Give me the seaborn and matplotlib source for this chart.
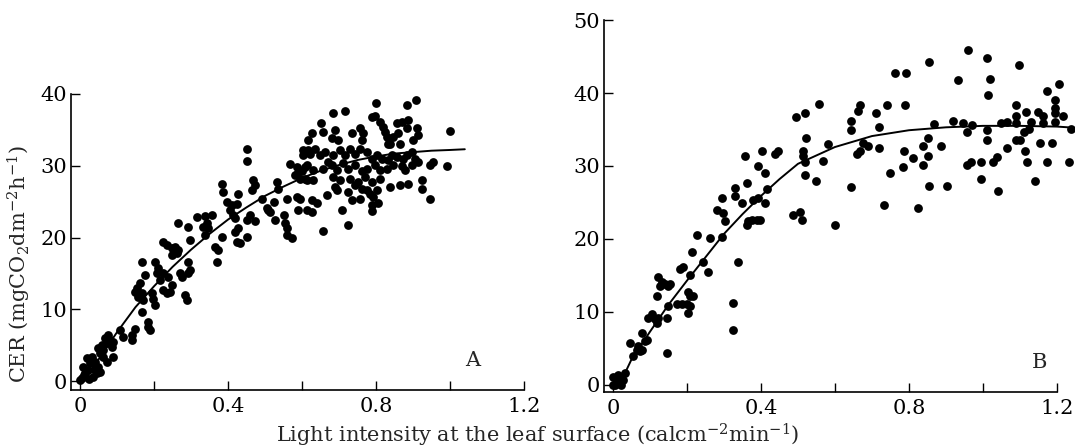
import numpy as np
import pandas as pd
import matplotlib
matplotlib.use("Agg")
import matplotlib.pyplot as plt
import seaborn as sns

# ---- panel A : measured points (light intensity, CER) ----
a_x = [0.005, 0.014, 0.009, 0.022, 0.036, 0.045, 0.027, 0.018, 0.032, 0.041, 0.049, 0.054, 0.063, 0.059, 0.072,
       0.068, 0.077, 0.081, 0.090, 0.086, 0.063, 0.072, 0.090, 0.049, 0.000, 0.010, 0.025, 0.040, 0.055,
       0.108, 0.117, 0.140, 0.149, 0.140, 0.167, 0.185, 0.189, 0.185,
       0.149, 0.153, 0.158, 0.167, 0.171, 0.162, 0.176, 0.167, 0.194, 0.198, 0.203, 0.207, 0.212, 0.203, 0.216,
       0.225, 0.234, 0.243, 0.248, 0.225, 0.239,
       0.270, 0.275, 0.293, 0.293, 0.284, 0.288, 0.297,
       0.225, 0.234, 0.248, 0.257, 0.261, 0.248, 0.266, 0.297, 0.338, 0.365, 0.374, 0.369, 0.383,
       0.450, 0.450, 0.383, 0.386, 0.468, 0.473, 0.464, 0.428, 0.396, 0.410, 0.423, 0.405, 0.414, 0.419, 0.356,
       0.338, 0.315, 0.342, 0.333, 0.347, 0.266, 0.293,
       0.450, 0.459, 0.473, 0.428, 0.419, 0.450, 0.432, 0.423,
       0.491, 0.505, 0.509, 0.523, 0.514, 0.527, 0.550, 0.554, 0.559, 0.559, 0.572, 0.590, 0.595, 0.559, 0.613,
       0.532, 0.536, 0.568, 0.586, 0.599, 0.604, 0.617, 0.613, 0.595, 0.581, 0.608,
       0.800, 0.788, 0.797, 0.811, 0.820, 0.824, 0.829, 0.833, 0.883, 0.908, 0.685, 0.716, 0.650, 0.658, 0.626,
       0.617, 0.689, 0.680, 0.698, 0.734, 0.757, 0.766, 0.761, 0.856, 0.869, 0.887, 0.883, 0.910, 0.914, 0.901,
       0.860, 0.847, 0.838, 0.865, 1.000,
       0.604, 0.622, 0.635, 0.649, 0.662, 0.671, 0.685, 0.703, 0.716, 0.730, 0.743, 0.757, 0.775, 0.788, 0.802,
       0.815, 0.833, 0.842, 0.856, 0.874, 0.883, 0.896, 0.905, 0.914,
       0.613, 0.631, 0.658, 0.680, 0.694, 0.712, 0.725, 0.743, 0.761, 0.775, 0.797, 0.811, 0.829, 0.847, 0.869,
       0.878, 0.896,
       0.586, 0.608, 0.631, 0.685, 0.703, 0.730, 0.752, 0.770, 0.788, 0.811, 0.838, 0.865, 0.887, 0.923, 0.923,
       0.955, 0.946, 0.991, 0.946,
       0.689, 0.694, 0.725, 0.743, 0.761, 0.775, 0.784, 0.802, 0.793,
       0.586, 0.626, 0.640, 0.626, 0.667, 0.707, 0.734, 0.757, 0.788, 0.788, 0.806, 0.658, 0.725]
a_y = [0.37, 1.07, 2.00, 1.53, 0.60, 1.07, 2.46, 3.16, 3.39, 2.69, 2.00, 3.85, 4.32, 5.00, 5.25,
       5.94, 6.40, 5.70, 5.50, 4.78, 3.39, 2.69, 3.39, 4.55, 0.20, 0.80, 0.30, 1.60, 1.30,
       7.10, 6.20, 5.70, 7.30, 6.40, 9.65, 8.26, 7.10, 7.56,
       12.4, 12.9, 11.7, 12.2, 11.3, 13.6, 14.8, 16.6, 12.2, 11.5, 10.6, 15.0, 15.7, 16.6, 14.1,
       12.7, 12.2, 12.4, 13.4, 15.0, 14.5,
       15.0, 14.5, 15.0, 16.6, 12.0, 11.3, 15.5,
       19.4, 18.9, 18.5, 18.7, 17.8, 17.5, 18.2, 19.6, 20.3, 18.7, 18.2, 16.6, 20.1,
       32.4, 30.7, 27.5, 26.4, 28.0, 27.3, 26.6, 26.0, 25.0, 24.5, 24.7, 23.8, 23.1, 22.7, 23.1,
       23.0, 22.9, 22.0, 21.4, 21.3, 22.0, 21.4,
       22.4, 23.1, 22.3, 21.3, 20.8, 20.1, 19.2, 19.4,
       25.3, 24.1, 23.8, 25.0, 23.6, 22.4, 23.1, 22.0, 21.3, 20.3, 19.9, 23.8, 25.4, 25.4, 23.8,
       27.8, 26.8, 30.3, 29.8, 29.2, 31.5, 32.2, 28.0, 28.2, 28.7, 29.8,
       38.8, 36.8, 37.0, 36.1, 35.4, 34.7, 34.0, 33.1, 38.4, 39.1, 37.4, 37.6, 36.0, 34.7, 34.5,
       33.6, 35.0, 33.8, 33.6, 34.5, 35.2, 34.5, 33.6, 35.9, 36.1, 36.4, 35.2, 35.2, 34.3, 33.6,
       34.5, 34.0, 33.1, 33.1, 34.9,
       32.2, 31.7, 32.4, 31.5, 31.9, 30.5, 31.5, 32.2, 31.5, 32.4, 31.7, 32.4, 31.9, 31.0, 31.5,
       31.0, 30.8, 31.5, 31.2, 31.0, 31.5, 31.9, 31.0, 30.5,
       30.1, 29.4, 29.6, 30.1, 29.4, 30.4, 29.6, 30.1, 29.2, 29.6, 30.1, 29.4, 29.6, 30.1, 29.9,
       29.4, 30.1,
       28.9, 28.2, 28.0, 28.5, 28.0, 28.2, 27.8, 28.5, 27.8, 28.2, 27.1, 27.3, 27.5, 28.0, 26.8,
       30.5, 30.1, 29.9, 25.4,
       27.1, 26.6, 26.4, 27.3, 26.8, 26.6, 26.1, 26.6, 25.6,
       25.7, 25.2, 24.8, 23.6, 25.9, 23.9, 25.2, 25.4, 24.5, 23.7, 24.8, 20.9, 21.7]
a_curve_x = [0.02, 0.05, 0.10, 0.15, 0.20, 0.25, 0.30, 0.35, 0.40, 0.45, 0.50, 0.55, 0.60, 0.65, 0.70,
             0.75, 0.80, 0.85, 0.90, 0.95, 1.00, 1.04]
a_curve_y = [0.8, 3.0, 6.8, 10.3, 13.2, 15.9, 18.3, 20.5, 22.5, 24.2, 25.8, 27.1, 28.3, 29.3, 30.1,
             30.8, 31.3, 31.7, 31.9, 32.1, 32.2, 32.3]

# ---- panel B ----
b_x = [0.001, 0.010, 0.019, 0.005, 0.028, 0.032, 0.014, 0.023, 0.001,
       0.046, 0.055, 0.064, 0.073, 0.078, 0.068, 0.078, 0.091, 0.086,
       0.095, 0.105, 0.114, 0.118, 0.122, 0.145, 0.145, 0.149,
       0.118, 0.127, 0.132, 0.141, 0.149, 0.154, 0.122,
       0.172, 0.186, 0.199, 0.208, 0.204, 0.208, 0.217, 0.204,
       0.181, 0.190, 0.208, 0.213, 0.226, 0.244, 0.258, 0.262,
       0.280, 0.294, 0.298, 0.303, 0.294, 0.325, 0.325, 0.339,
       0.330, 0.330, 0.348, 0.361, 0.357, 0.361, 0.366, 0.375, 0.388, 0.397, 0.402, 0.393, 0.411, 0.379,
       0.393, 0.411, 0.415, 0.438, 0.447,
       0.487, 0.505, 0.510, 0.496, 0.519, 0.558, 0.523, 0.514, 0.514, 0.519, 0.582, 0.568, 0.519, 0.549,
       0.600, 0.642, 0.642, 0.663, 0.668, 0.677, 0.690, 0.659, 0.668, 0.711, 0.720, 0.740, 0.720, 0.642,
       0.732, 0.749, 0.762, 0.792, 0.789, 0.786, 0.783,
       0.825, 0.812, 0.837, 0.839, 0.852, 0.855, 0.852, 0.855, 0.868, 0.886, 0.902, 0.918, 0.933, 0.960,
       0.945, 0.956, 0.969, 0.958, 0.970, 0.996, 0.994, 1.010, 1.020, 1.014, 1.012, 1.012, 1.028, 1.037,
       1.041, 1.050, 1.064, 1.066, 1.098, 1.089, 1.090, 1.090, 1.090, 1.101, 1.116, 1.114, 1.118, 1.110,
       1.125, 1.130, 1.142, 1.149, 1.154, 1.163, 1.163, 1.172, 1.174, 1.186, 1.195, 1.206, 1.195, 1.195,
       1.195, 1.217, 1.233, 1.237]
b_y = [1.15, 0.69, 0.23, 0.00, 0.69, 1.60, 1.38, 0.00, 0.00,
       5.77, 3.92, 4.85, 4.60, 4.85, 5.30, 7.16, 6.23, 6.00,
       9.2, 9.7, 9.0, 8.5, 9.2, 4.4, 9.2, 10.8,
       12.2, 13.6, 14.1, 13.9, 13.6, 13.9, 14.8,
       11.1, 11.1, 11.1, 10.8, 9.9, 12.2, 12.2, 12.7,
       15.9, 16.2, 15.0, 18.2, 20.5, 16.9, 15.5, 20.1,
       24.0, 25.6, 23.5, 22.4, 20.3, 11.3, 7.6, 16.9,
       27.0, 25.9, 24.9, 27.7, 31.4, 21.9, 22.4, 22.6, 22.6, 22.6, 32.1, 30.0, 29.1, 25.4,
       25.6, 24.9, 26.8, 31.6, 32.1,
       23.3, 23.7, 22.6, 36.7, 37.3, 38.5, 33.9, 32.1, 31.4, 30.5, 33.0, 30.7, 28.8, 28.0,
       21.9, 36.2, 34.9, 37.6, 38.3, 33.2, 32.8, 31.7, 32.0, 37.3, 35.4, 38.3, 32.5, 27.1,
       24.7, 29.1, 42.7, 42.8, 38.3, 32.1, 29.8,
       24.3, 31.1, 30.2, 32.8, 33.9, 44.3, 31.4, 27.2, 35.7, 32.8, 27.2, 36.2, 41.8, 45.9,
       35.9, 30.2, 30.6, 34.6, 35.6, 28.2, 30.6, 44.8, 41.9, 39.7, 34.9, 33.6, 30.6, 31.2,
       26.6, 35.9, 36.0, 32.4, 43.9, 38.3, 36.9, 35.9, 33.6, 33.6, 37.4, 32.0, 30.6, 34.6,
       35.1, 36.0, 28.0, 37.4, 33.2, 36.9, 35.9, 30.5, 40.3, 33.2, 39.1, 41.2, 37.9, 37.2,
       36.0, 36.8, 30.5, 35.1]
b_curve_x = [0.02, 0.05, 0.10, 0.15, 0.20, 0.25, 0.30, 0.35, 0.40, 0.45, 0.50, 0.60, 0.70, 0.80, 0.90,
             1.00, 1.10, 1.20, 1.23]
b_curve_y = [0.3, 3.5, 7.3, 11.0, 14.3, 17.5, 20.7, 23.4, 25.9, 28.2, 30.3, 32.6, 34.1, 34.9, 35.3,
             35.5, 35.5, 35.4, 35.3]

x_ticks = [0, 0.2, 0.4, 0.6, 0.8, 1.0, 1.2]
x_ticklabels = ["0", "", "0.4", "", "0.8", "", "1.2"]
a_yticks = [0, 10, 20, 30, 40]
b_yticks = [0, 10, 20, 30, 40, 50]

sns.set_style("ticks")
plt.rcParams['font.family'] = ['DejaVu Serif']
plt.rcParams['mathtext.fontset'] = 'dejavuserif'

fig = plt.figure(figsize=(10.75, 4.47), dpi=100)
axA = fig.add_axes([0.06605, 0.12752, 0.4214, 0.66219])
axB = fig.add_axes([0.56186, 0.12304, 0.43684, 0.83221])

panels = [(axA, a_x, a_y, a_curve_x, a_curve_y, a_yticks, (-1.25, 40), (-0.0243, 1.2), "A", (1.062, 2.9)),
          (axB, b_x, b_y, b_curve_x, b_curve_y, b_yticks, (-0.96, 50), (-0.0243, 1.245), "B", (1.154, 3.1))]

for ax, x, y, cx, cy, yt, ylim, xlim, tag, tagpos in panels:
    sns.scatterplot(x=x, y=y, ax=ax, color='black', s=40, linewidth=0, clip_on=False)
    sns.lineplot(x=cx, y=cy, ax=ax, color='black', lw=1.4, sort=False, estimator=None)
    ax.set_xlim(*xlim)
    ax.set_ylim(*ylim)
    ax.set_xticks(x_ticks)
    ax.set_xticklabels(x_ticklabels)
    ax.set_yticks(yt)
    ax.spines['top'].set_visible(False)
    ax.spines['right'].set_visible(False)
    ax.spines['bottom'].set_bounds(xlim[0], 1.2)
    ax.spines['left'].set_bounds(ylim[0], yt[-1])
    for s in ['left', 'bottom']:
        ax.spines[s].set_linewidth(1.2)
        ax.spines[s].set_color('black')
    ax.tick_params(direction='in', length=6.5, width=1.0, labelsize=15, colors='black')
    ax.tick_params(axis='x', pad=5)
    ax.tick_params(axis='y', pad=3)
    ax.set_xlabel("")
    ax.set_ylabel("")
    ax.text(tagpos[0], tagpos[1], tag, fontsize=15, ha='center', va='center')

fig.text(0.0185, 0.41, r"CER (mgCO$_{2}$dm$^{-2}$h$^{-1}$)", rotation=90,
         ha='center', va='center', fontsize=15)
fig.text(0.5, 0.027, r"Light intensity at the leaf surface (calcm$^{-2}$min$^{-1}$)",
         ha='center', va='center', fontsize=15)

fig.savefig("out.png", dpi=100)
